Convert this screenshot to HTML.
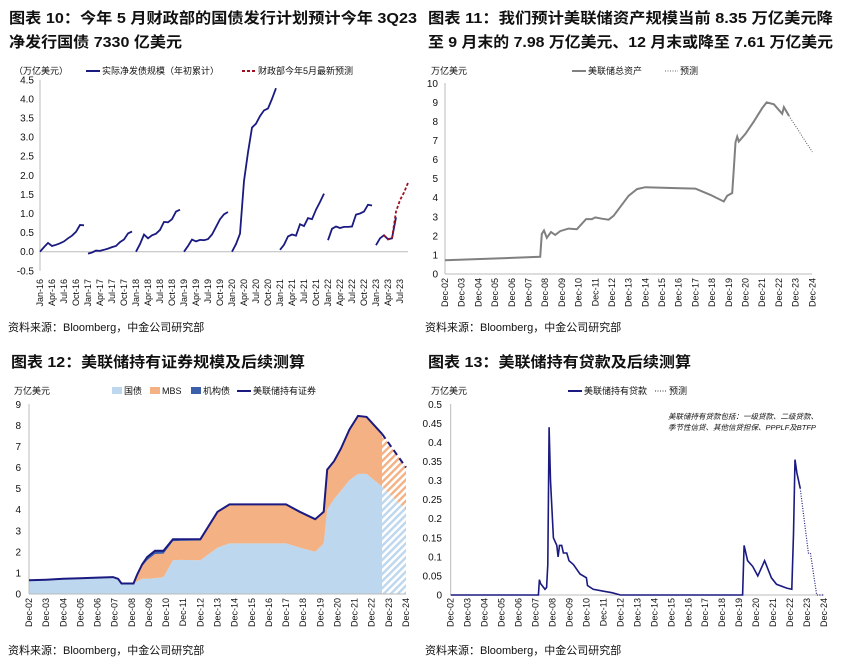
<!DOCTYPE html>
<html><head><meta charset="utf-8">
<style>
html,body{margin:0;padding:0;background:#fff;}
svg{display:block;font-family:"Liberation Sans","Noto Sans CJK SC",sans-serif;}
.t{font-size:15px;font-weight:bold;fill:#111;}
.src{font-size:11px;fill:#111;}
.tk{font-size:10px;fill:#111;}
.xt{font-size:9px;fill:#111;}
.lg{font-size:9px;fill:#111;}
</style></head>
<body>
<svg id="root" width="841" height="664" viewBox="0 0 841 664">
<defs>
<pattern id="hb" width="5" height="5" patternUnits="userSpaceOnUse" patternTransform="rotate(45)"><rect width="5" height="5" fill="#fff"/><rect width="2.4" height="5" fill="#bdd7ee"/></pattern>
<pattern id="ho" width="5" height="5" patternUnits="userSpaceOnUse" patternTransform="rotate(45)"><rect width="5" height="5" fill="#fff"/><rect width="2.4" height="5" fill="#f4b183"/></pattern>
</defs>
<text class="t" x="9" y="23" textLength="408" lengthAdjust="spacingAndGlyphs">图表 10：今年 5 月财政部的国债发行计划预计今年 3Q23</text>
<text class="t" x="9" y="47" textLength="173" lengthAdjust="spacingAndGlyphs">净发行国债 7330 亿美元</text>
<text class="t" x="428" y="23" textLength="405" lengthAdjust="spacingAndGlyphs">图表 11：我们预计美联储资产规模当前 8.35 万亿美元降</text>
<text class="t" x="428" y="47" textLength="405" lengthAdjust="spacingAndGlyphs">至 9 月末的 7.98 万亿美元、12 月末或降至 7.61 万亿美元</text>
<text class="t" x="11" y="367" textLength="294" lengthAdjust="spacingAndGlyphs">图表 12：美联储持有证券规模及后续测算</text>
<text class="t" x="428" y="367" textLength="263" lengthAdjust="spacingAndGlyphs">图表 13：美联储持有贷款及后续测算</text>
<text class="src" x="8" y="331">资料来源：Bloomberg，中金公司研究部</text>
<text class="src" x="425" y="331">资料来源：Bloomberg，中金公司研究部</text>
<text class="src" x="8" y="654">资料来源：Bloomberg，中金公司研究部</text>
<text class="src" x="425" y="654">资料来源：Bloomberg，中金公司研究部</text>

<text class="lg" x="14" y="74">（万亿美元）</text>
<line x1="86" y1="71" x2="100" y2="71" stroke="#1a1a80" stroke-width="2"/>
<text class="lg" x="102" y="74">实际净发债规模（年初累计）</text>
<line x1="242" y1="71" x2="256" y2="71" stroke="#a01020" stroke-width="2" stroke-dasharray="3,2"/>
<text class="lg" x="258" y="74">财政部今年5月最新预测</text>

<text class="lg" x="431" y="74">万亿美元</text>
<line x1="572" y1="71" x2="586" y2="71" stroke="#808080" stroke-width="2"/>
<text class="lg" x="588" y="74">美联储总资产</text>
<line x1="665" y1="71" x2="678" y2="71" stroke="#666" stroke-width="1" stroke-dasharray="1,1.5"/>
<text class="lg" x="680" y="74">预测</text>

<text class="lg" x="14" y="394">万亿美元</text>
<rect x="112" y="387" width="10" height="7" fill="#bdd7ee"/>
<text class="lg" x="124" y="394">国债</text>
<rect x="150" y="387" width="10" height="7" fill="#f4b183"/>
<text class="lg" x="162" y="394">MBS</text>
<rect x="191" y="387" width="10" height="7" fill="#3b5fa8"/>
<text class="lg" x="203" y="394">机构债</text>
<line x1="237" y1="391" x2="251" y2="391" stroke="#1a1a80" stroke-width="2"/>
<text class="lg" x="253" y="394">美联储持有证券</text>

<text class="lg" x="431" y="394">万亿美元</text>
<line x1="568" y1="391" x2="582" y2="391" stroke="#1a1a80" stroke-width="2"/>
<text class="lg" x="584" y="394">美联储持有贷款</text>
<line x1="655" y1="391" x2="667" y2="391" stroke="#333" stroke-width="1" stroke-dasharray="1,1.5"/>
<text class="lg" x="669" y="394">预测</text>
<text x="668" y="419" font-size="7.5" font-style="italic" fill="#111">美联储持有贷款包括：一级贷款、二级贷款、</text>
<text x="668" y="430" font-size="7.5" font-style="italic" fill="#111">季节性信贷、其他信贷担保、PPPLF及BTFP</text>
<g id="plots"></g>
</svg>
<script>
// ---------- Chart 10 data (monthly cumulative, Jan-16 .. ) ----------
const c10Years = ["16","17","18","19","20","21","22","23"];
const c10Actual = [
 [0,0.12,0.23,0.15,0.18,0.22,0.27,0.35,0.42,0.52,0.7,0.69],
 [-0.05,-0.02,0.03,0.02,0.05,0.08,0.12,0.15,0.25,0.32,0.48,0.53],
 [0.0,0.2,0.45,0.35,0.43,0.47,0.57,0.78,0.77,0.85,1.05,1.1],
 [0,0.15,0.32,0.27,0.31,0.3,0.33,0.45,0.65,0.85,0.98,1.04],
 [0,0.2,0.47,1.85,2.6,3.25,3.35,3.55,3.7,3.75,4.0,4.28],
 [0.05,0.18,0.4,0.45,0.42,0.72,0.67,0.88,0.85,1.1,1.3,1.52],
 [0.3,0.6,0.66,0.62,0.65,0.65,0.66,0.97,1.0,1.05,1.23,1.21],
 [0.17,0.35,0.43,0.33,0.35,0.9]
];
const c10ForecastMonths = [2,3,4,5,6,7,8];
const c10Forecast = [0.43,0.32,0.35,1.05,1.35,1.55,1.8];
const c10YTicks = ["-0.5","0.0","0.5","1.0","1.5","2.0","2.5","3.0","3.5","4.0","4.5"];
const c10XMonths = ["Jan","Apr","Jul","Oct"];

// ---------- Chart 11 data ----------
const c11T = [0,5.7,5.8,5.93,6.1,6.35,6.6,6.9,7.4,7.9,8.45,8.8,9.0,9.4,9.8,10.1,11,11.5,12,14.1,15,15.9,16.7,16.9,17.2,17.3,17.4,17.5,17.6,18,18.5,19,19.26,19.7,20.2,20.3,20.6];
const c11V = [0.72,0.9,2.1,2.28,1.9,2.2,2.05,2.25,2.38,2.35,2.88,2.88,2.97,2.9,2.85,3.05,4.1,4.45,4.55,4.5,4.48,4.15,3.8,4.1,4.25,5.5,6.9,7.2,6.95,7.35,8.0,8.7,9.0,8.9,8.4,8.75,8.3];
const c11FT = [20.6,22];
const c11FV = [8.3,6.4];
const c11YTicks = ["0","1","2","3","4","5","6","7","8","9","10"];
const decLabels = ["Dec-02","Dec-03","Dec-04","Dec-05","Dec-06","Dec-07","Dec-08","Dec-09","Dec-10","Dec-11","Dec-12","Dec-13","Dec-14","Dec-15","Dec-16","Dec-17","Dec-18","Dec-19","Dec-20","Dec-21","Dec-22","Dec-23","Dec-24"];

// ---------- Chart 12 data ----------
const c12T = [0,1,2,3,4,4.9,5.2,5.4,6.1,6.3,6.6,6.9,7.35,7.85,8.4,8.8,10,11,11.7,15,15.8,16.7,17.2,17.4,17.8,18.2,18.7,19.2,19.7,20.6,22];
const c12Treasury = [0.62,0.66,0.70,0.73,0.76,0.78,0.70,0.48,0.48,0.6,0.72,0.73,0.75,0.8,1.6,1.62,1.6,2.2,2.4,2.4,2.2,2.0,2.4,4.0,4.5,4.9,5.4,5.7,5.7,5.1,4.0];
const c12Mbs = [0.03,0.02,0.02,0.02,0.02,0.02,0.02,0.02,0.02,0.28,0.6,0.87,1.15,1.11,0.9,0.9,0.94,1.66,1.82,1.84,1.7,1.55,1.5,1.9,1.8,2.0,2.4,2.75,2.7,2.5,2.0];
const c12Agency = [0,0,0,0,0,0,0,0,0,0.02,0.08,0.15,0.15,0.14,0.1,0.08,0.06,0.04,0.03,0.01,0,0,0,0,0,0,0,0,0,0,0];
const c12ForecastStart = 20.6;
const c12YTicks = ["0","1","2","3","4","5","6","7","8","9"];

// ---------- Chart 13 data ----------
const c13T = [0,5.17,5.23,5.3,5.56,5.65,5.72,5.8,5.88,6.05,6.25,6.33,6.41,6.54,6.64,6.84,6.97,7.23,7.62,8.0,8.06,8.4,9,9.5,10,17.2,17.29,17.5,17.8,18.1,18.5,18.9,19.2,19.8,20.1,20.2,20.29,20.4,20.6];
const c13V = [0,0,0.04,0.03,0.015,0.02,0.08,0.44,0.3,0.15,0.13,0.1,0.13,0.13,0.11,0.11,0.09,0.08,0.055,0.045,0.025,0.015,0.01,0.006,0,0,0.13,0.09,0.075,0.05,0.09,0.045,0.028,0.018,0.015,0.16,0.355,0.32,0.28];
const c13FT = [20.6,21.08,21.2,21.57,22];
const c13FV = [0.28,0.11,0.11,0,0];
const c13YTicks = ["0","0.05","0.1","0.15","0.2","0.25","0.3","0.35","0.4","0.45","0.5"];

const NS="http://www.w3.org/2000/svg";
const G=document.getElementById('plots');
function mk(tag,attrs,parent){const e=document.createElementNS(NS,tag);for(const k in attrs)e.setAttribute(k,attrs[k]);(parent||G).appendChild(e);return e;}
function linear(d0,d1,r0,r1){return v=>r0+(v-d0)*(r1-r0)/(d1-d0);}
function pathOf(xs,ys){return xs.map((x,i)=>(i?'L':'M')+x.toFixed(1)+','+ys[i].toFixed(1)).join('');}

(function(){
 const x=linear(0,92,40,408), y=linear(0,1,251.7,213.5);
 mk('line',{x1:40,y1:y(4.5),x2:40,y2:y(-0.5),stroke:'#bbb'});
 mk('line',{x1:40,y1:y(0),x2:408,y2:y(0),stroke:'#bbb'});
 c10YTicks.forEach(s=>{const v=parseFloat(s);const t=mk('text',{x:34,y:y(v)+3.5,'text-anchor':'end',class:'tk',fill:v<0?'#e00':'#111'});t.textContent=s;
  
  });
 c10Years.forEach((yr,yi)=>{
  c10XMonths.forEach((m,mi)=>{const mm=yi*12+mi*3;if(mm>90)return;const px=x(mm)+3;
   const t=mk('text',{transform:`translate(${px},279) rotate(-90)`,'text-anchor':'end',class:'xt'});t.textContent=m+'-'+yr;
   
   });
  const vals=c10Actual[yi];
  const p=mk('path',{d:pathOf(vals.map((v,i)=>x(yi*12+i)),vals.map(v=>y(v))),fill:'none',stroke:'#1a1a80','stroke-width':1.8});
  
  
 });
 const f=mk('path',{d:pathOf(c10ForecastMonths.map(m=>x(84+m)),c10Forecast.map(v=>y(v))),fill:'none',stroke:'#a01020','stroke-width':1.8,'stroke-dasharray':'3,2'});
 
 
})();

function decAxis(x,yTop,prefix){
 decLabels.forEach((s,i)=>{const t=mk('text',{transform:`translate(${x(i)+3},${yTop}) rotate(-90)`,'text-anchor':'end',class:'xt'});t.textContent=s;
  
  });
}
function yAxis(ticks,y,xr,prefix){
 ticks.forEach(s=>{const t=mk('text',{x:xr,y:y(parseFloat(s))+3.5,'text-anchor':'end',class:'tk'});t.textContent=s;
  
  });
}

(function(){
 const x=linear(0,22,445,812.3), y=linear(0,10,274,83.3);
 mk('line',{x1:445,y1:83,x2:445,y2:274,stroke:'#bbb'});
 mk('line',{x1:445,y1:274,x2:812,y2:274,stroke:'#bbb'});
 yAxis(c11YTicks,y,438,'chart11');
 decAxis(x,278,'chart11');
 const p=mk('path',{d:pathOf(c11T.map(x),c11V.map(y)),fill:'none',stroke:'#808080','stroke-width':2});
 
 
 const f=mk('path',{d:pathOf(c11FT.map(x),c11FV.map(y)),fill:'none',stroke:'#555','stroke-width':1,'stroke-dasharray':'1,1.5'});
 
 
})();

(function(){
 const x=linear(0,22,29,406), y=linear(0,9,594,404.3);
 const n=c12T.length;
 const b1=c12Treasury, b2=c12Treasury.map((v,i)=>v+c12Mbs[i]), b3=b2.map((v,i)=>v+c12Agency[i]);
 const k=c12T.indexOf(c12ForecastStart);
 function band(lo,hi,i0,i1,fill,name){
  const xs=c12T.slice(i0,i1+1).map(x);
  const top=hi.slice(i0,i1+1).map(y), bot=lo.slice(i0,i1+1).map(y);
  let d=pathOf(xs,top);for(let i=xs.length-1;i>=0;i--)d+='L'+xs[i].toFixed(1)+','+bot[i].toFixed(1);d+='Z';
  const p=mk('path',{d:d,fill:fill});
  
  
 }
 const zero=c12T.map(()=>0);
 band(zero,b1,0,k,'#bdd7ee','treasury-area');
 band(b1,b2,0,k,'#f4b183','mbs-area');
 band(b2,b3,0,k,'#3b5fa8','agency-area');
 band(zero,b1,k,n-1,'url(#hb)','treasury-forecast-area');
 band(b1,b2,k,n-1,'url(#ho)','mbs-forecast-area');
 mk('line',{x1:29,y1:404,x2:29,y2:594,stroke:'#bbb'});
 mk('line',{x1:29,y1:594,x2:406,y2:594,stroke:'#bbb'});
 yAxis(c12YTicks,y,21,'chart12');
 decAxis(x,598,'chart12');
 const p=mk('path',{d:pathOf(c12T.slice(0,k+1).map(x),b3.slice(0,k+1).map(y)),fill:'none',stroke:'#1a1a80','stroke-width':2});
 
 
 const f=mk('path',{d:pathOf(c12T.slice(k).map(x),b3.slice(k).map(y)),fill:'none',stroke:'#1a1a80','stroke-width':2,'stroke-dasharray':'6,4'});
 
 
})();

(function(){
 const x=linear(0,22,450.7,824), y=linear(0,0.5,595,404.3);
 mk('line',{x1:450.7,y1:404,x2:450.7,y2:595,stroke:'#bbb'});
 mk('line',{x1:450.7,y1:595,x2:824,y2:595,stroke:'#bbb'});
 yAxis(c13YTicks,y,442,'chart13');
 decAxis(x,598,'chart13');
 const p=mk('path',{d:pathOf(c13T.map(x),c13V.map(y)),fill:'none',stroke:'#1a1a80','stroke-width':1.6});
 
 
 const f=mk('path',{d:pathOf(c13FT.map(x),c13FV.map(y)),fill:'none',stroke:'#1a1a80','stroke-width':1.2,'stroke-dasharray':'1,1.5'});
 
 
})();
</script>
</body></html>
